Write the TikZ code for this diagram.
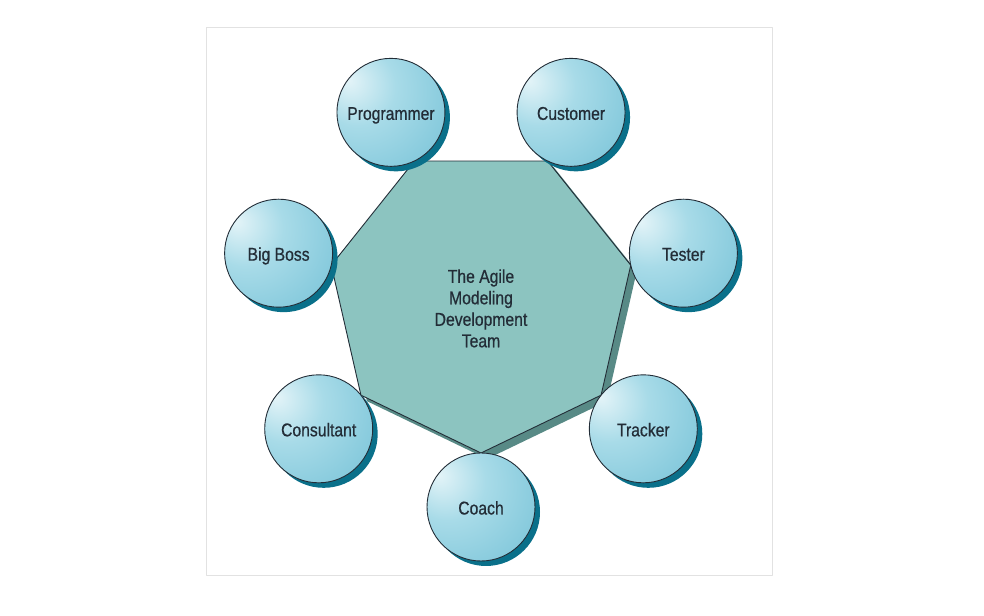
\documentclass[tikz,border=0pt]{standalone}
\usepackage{fontspec}
\setmainfont[FakeStretch=0.85, FakeBold=0.6]{Liberation Sans}
\definecolor{TeamFill}{RGB}{140,196,192}
\definecolor{TeamDepth}{RGB}{88,138,134}
\definecolor{RoleHigh}{RGB}{228,244,248}
\definecolor{RoleLight}{RGB}{168,219,232}
\definecolor{RoleMid}{RGB}{118,194,215}
\definecolor{RoleEdge}{RGB}{88,176,203}
\definecolor{RoleShadow}{RGB}{10,112,138}
\definecolor{InkDark}{RGB}{35,45,55}
\definecolor{FrameGray}{RGB}{226,226,226}
\usetikzlibrary{shapes.geometric, shadows, calc}
\pgfdeclareradialshading{bubble}{\pgfpoint{-20bp}{15bp}}{%
	color(0bp)=(RoleHigh); color(18bp)=(RoleLight); color(48bp)=(RoleMid);
	color(72bp)=(RoleEdge); color(85bp)=(RoleEdge)}

\begin{document}
\begin{tikzpicture}[x=1pt, y=1pt, line join=round,
	font=\fontsize{18.5}{21.5}\selectfont, text=InkDark,
	team/.style={regular polygon, regular polygon sides=7,
		shape border rotate=180, minimum size=307.2pt, inner sep=0pt,
		outer sep=0pt, draw=InkDark, line width=0.9pt, fill=TeamFill},
	depth/.style={regular polygon, regular polygon sides=7,
		shape border rotate=180, minimum size=307.2pt, inner sep=0pt,
		outer sep=0pt, fill=TeamDepth},
	teamtext/.style={align=center, inner sep=0pt},
	role/.style={circle, minimum size=108pt, inner sep=0pt, outer sep=0pt,
		draw=InkDark, line width=0.9pt, shading=bubble,
		text height=15pt, text depth=0pt,
		drop shadow={shadow xshift=5pt, shadow yshift=-5pt,
			fill=RoleShadow, opacity=1}}]

	% page and frame
	\useasboundingbox (0,0) rectangle (984,615);
	\draw[FrameGray, line width=1pt] (206,39) rectangle (772,587);

	% the team
	\node[depth] (teamdepth) at (487,309.6) {};
	\node[team] (team) at (481,315.6) {};
	\node[teamtext] (teamlabel) at ([yshift=-9pt]team.center)
		{The Agile\\ Modeling\\ Development\\ Team};

	% the roles round it
	\node[role] (customer)   at ($(team.center)+(64.29:207.6)$)  {Customer};
	\node[role] (programmer) at ($(team.center)+(115.71:207.6)$) {Programmer};
	\node[role] (bigboss)    at ($(team.center)+(167.14:207.6)$) {Big Boss};
	\node[role] (consultant) at ($(team.center)+(218.57:207.6)$) {Consultant};
	\node[role] (coach)      at ($(team.center)+(270:207.6)$)    {Coach};
	\node[role] (tracker)    at ($(team.center)+(321.43:207.6)$) {Tracker};
	\node[role] (tester)     at ($(team.center)+(12.86:207.6)$)  {Tester};
\end{tikzpicture}
\end{document}
